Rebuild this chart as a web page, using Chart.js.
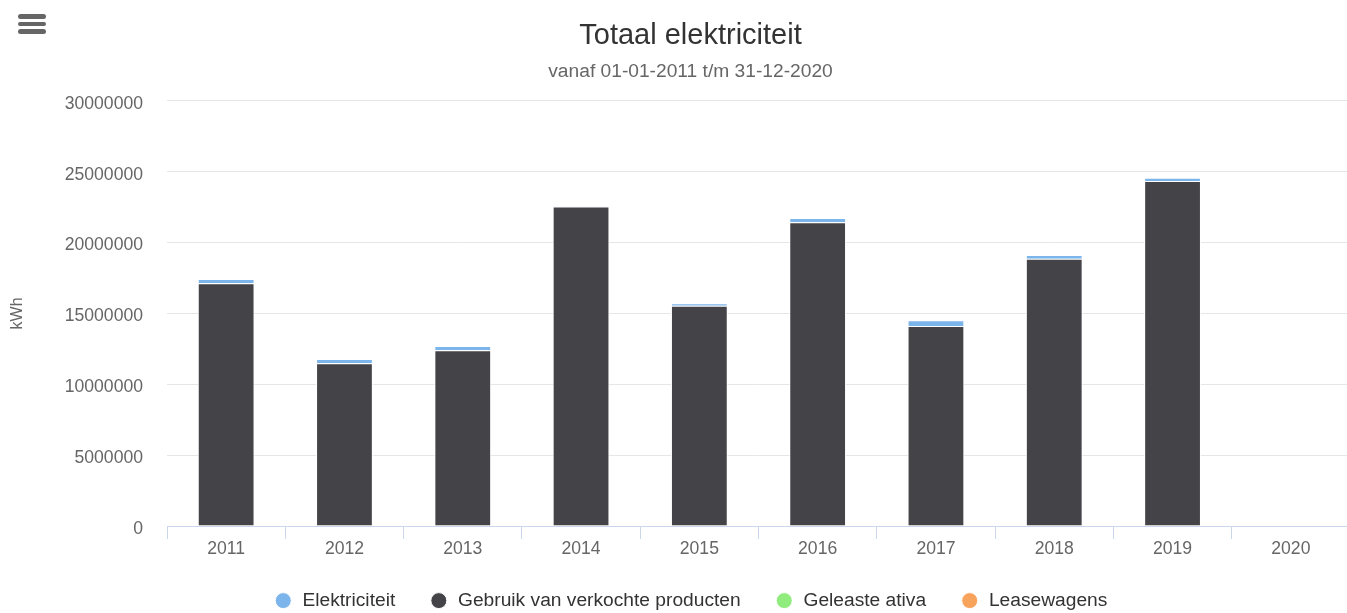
<!DOCTYPE html>
<html lang="nl">
<head>
<meta charset="utf-8">
<title>Totaal elektriciteit</title>
<script src="https://cdn.jsdelivr.net/npm/chart.js@4/dist/chart.umd.min.js"></script>
<style>
    html, body { margin: 0; padding: 0; background: #fff; overflow: hidden; }
    #wrap { position: relative; width: 1381px; height: 613px; }
    #menu { position: absolute; left: 18px; top: 14px; width: 28px; cursor: pointer; }
    #menu span { display: block; height: 4.5px; margin-bottom: 3px; background: #666; border-radius: 3px; }
</style>
</head>
<body>
<div id="wrap">
    <canvas id="grafico"></canvas>
    <div id="menu"><span></span><span></span><span></span></div>
</div>
<script>
const jaren = ["2011", "2012", "2013", "2014", "2015", "2016", "2017", "2018", "2019", "2020"]
const elektriciteit = [300000, 310000, 300000, 30000, 170000, 290000, 400000, 280000, 230000, 0]
const gebruikProducten = [17130000, 11480000, 12400000, 22540000, 15540000, 21440000, 14120000, 18850000, 24350000, 0]
const geleasteAtiva = [0, 0, 0, 0, 0, 0, 0, 0, 0, 0]
const leasewagens = [0, 0, 0, 0, 0, 0, 0, 0, 0, 0]
const yTicks = [0, 5000000, 10000000, 15000000, 20000000, 25000000, 30000000]

Chart.defaults.font.family = "'Liberation Sans', Arial, Helvetica, sans-serif"

// legenda lager maken zodat de x-as op de juiste hoogte blijft
const legendaHoogte = {
    id: "legendaHoogte",
    beforeInit(chart){
        const fit = chart.legend.fit
        chart.legend.fit = function(){
            fit.bind(chart.legend)()
            this.height = 56
        }
    }
}

function serie(label, data, kleur){
    return {
        label,
        data,
        backgroundColor: kleur,
        borderColor: "#ffffff",
        borderWidth: 1,
        categoryPercentage: 0.6,
        barPercentage: 0.8
    }
}

function tekenGrafico(){
    const ctx = document.getElementById("grafico")

    // volgorde omgekeerd: eerste serie in de legenda ligt bovenop de stapel
    new Chart(ctx, {
        type: "bar",
        data: {
            labels: jaren,
            datasets: [
                serie("Leasewagens", leasewagens, "#f7a35c"),
                serie("Geleaste ativa", geleasteAtiva, "#90ed7d"),
                serie("Gebruik van verkochte producten", gebruikProducten, "#434348"),
                serie("Elektriciteit", elektriciteit, "#7cb5ec")
            ]
        },
        plugins: [legendaHoogte],
        options: {
            responsive: true,
            maintainAspectRatio: false,
            animation: false,
            layout: { padding: 0 },
            plugins: {
                title: {
                    display: true,
                    text: "Totaal elektriciteit",
                    color: "#333333",
                    font: { size: 29, weight: "normal" },
                    padding: { top: 19, bottom: 6 }
                },
                subtitle: {
                    display: true,
                    text: "vanaf 01-01-2011 t/m 31-12-2020",
                    color: "#666666",
                    font: { size: 19.2, weight: "normal" },
                    padding: { top: 0, bottom: 18 }
                },
                legend: {
                    position: "bottom",
                    reverse: true,
                    labels: {
                        color: "#333333",
                        font: { size: 19.2 },
                        usePointStyle: true,
                        pointStyle: "circle",
                        boxHeight: 11.3,
                        padding: 34
                    }
                },
                tooltip: { enabled: false }
            },
            scales: {
                x: {
                    stacked: true,
                    afterFit(scale){ scale.height = 31 },
                    border: { color: "#ccd6eb", width: 1 },
                    grid: {
                        offset: true,
                        drawOnChartArea: false,
                        drawTicks: true,
                        tickLength: 13,
                        color: "#ccd6eb"
                    },
                    ticks: { color: "#666666", font: { size: 17.6 }, padding: 0, maxRotation: 0 }
                },
                y: {
                    stacked: true,
                    min: 0,
                    max: 30000000,
                    afterFit(scale){ scale.width = 167 },
                    afterBuildTicks(scale){ scale.ticks = yTicks.map(v => ({ value: v })) },
                    border: { display: false },
                    grid: {
                        drawTicks: false,
                        color: c => c.tick && c.tick.value === 0 ? "rgba(0,0,0,0)" : "#e6e6e6"
                    },
                    ticks: {
                        color: "#666666",
                        font: { size: 17.6 },
                        padding: 24,
                        labelOffset: 3,
                        callback: v => String(v)
                    },
                    title: {
                        display: true,
                        text: "kWh",
                        color: "#666666",
                        font: { size: 16 },
                        padding: { top: 8, bottom: 0 }
                    }
                },
                // lege as rechts: ruimte tot de rand, titel blijft gecentreerd
                rechts: {
                    position: "right",
                    afterFit(scale){ scale.width = 31 },
                    border: { display: false },
                    grid: { display: false },
                    ticks: { display: false }
                }
            }
        }
    })
}

tekenGrafico()
</script>
</body>
</html>
